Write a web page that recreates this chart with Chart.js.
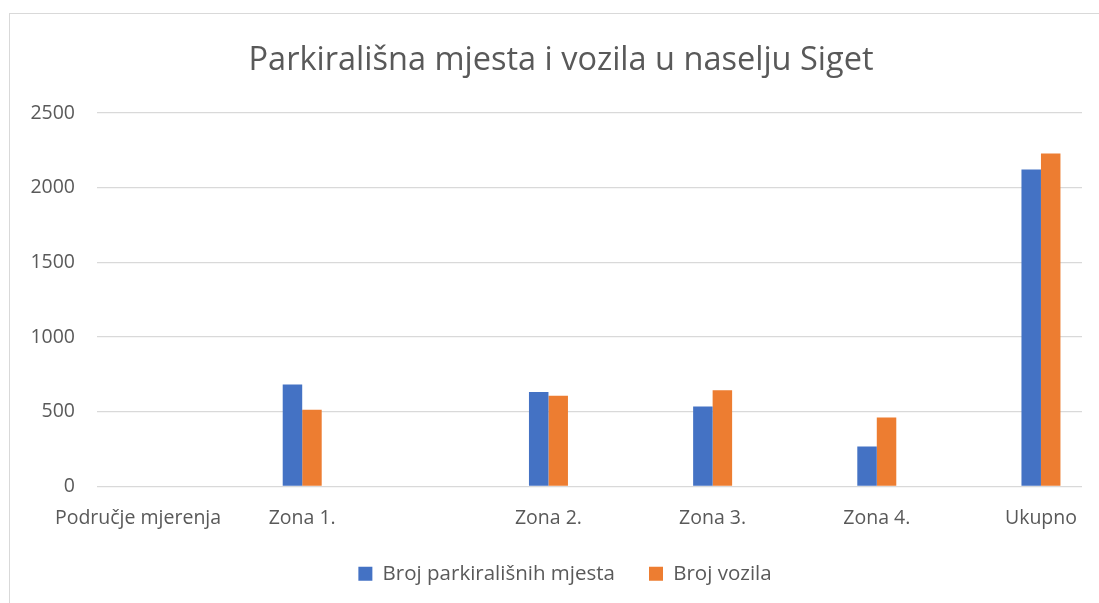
<!DOCTYPE html>
<html>
<head>
<meta charset="utf-8">
<script src="https://cdn.jsdelivr.net/npm/chart.js@4"></script>
<style>
    html, body { margin: 0; padding: 0; background: #ffffff; overflow: hidden; }
    #frame {
        position: absolute; left: 9px; top: 13px; right: -5px; bottom: -5px;
        border: 1px solid #d9d9d9;
    }
    #chart { position: absolute; left: 0; top: 0; }
</style>
</head>
<body>
<div id="frame"></div>
<canvas id="chart" width="1099" height="603"></canvas>
<script>
// Categories as they sit in the sheet (blank rows included)
const categories = ["Područje mjerenja", "", "Zona 1.", "", "", "Zona 2.", "", "Zona 3.", "", "Zona 4.", "", "Ukupno"];
const parkingSpots = [null, null, 682, null, null, 633, null, 535, null, 267, null, 2122];
const vehicles = [null, null, 513, null, null, 607, null, 645, null, 462, null, 2229];
const yTicks = [0, 500, 1000, 1500, 2000, 2500];

const textColor = "#595959";
const fontFamily = "'Open Sans', 'Noto Sans', sans-serif";

// Title and legend are centred on the whole frame, not on the plot
const centreShift = {
    id: "centreShift",
    afterLayout(chart) {
        chart.titleBlock.left += 20;
        chart.titleBlock.right += 20;
        chart.legend.left += 24;
        chart.legend.right += 24;
    },
};

new Chart(document.getElementById("chart"), {
    type: "bar",
    data: {
        labels: categories,
        datasets: [
            {
                label: "Broj parkirališnih mjesta",
                data: parkingSpots,
                backgroundColor: "#4472c4",
                categoryPercentage: 0.475,
                barPercentage: 1.0,
            },
            {
                label: "Broj vozila",
                data: vehicles,
                backgroundColor: "#ed7d31",
                categoryPercentage: 0.475,
                barPercentage: 1.0,
            },
        ],
    },
    options: {
        responsive: false,
        animation: false,
        layout: { padding: { left: 0, right: 17, top: 0, bottom: 9 } },
        plugins: {
            title: {
                display: true,
                text: "Parkirališna mjesta i vozila u naselju Siget",
                color: textColor,
                font: { family: fontFamily, size: 32.5, weight: "normal" },
                padding: { top: 41, bottom: 33 },
            },
            legend: {
                position: "bottom",
                labels: {
                    color: textColor,
                    font: { family: fontFamily, size: 20.5 },
                    boxWidth: 14,
                    boxHeight: 14,
                    padding: 34,
                },
            },
            tooltip: { enabled: false },
        },
        scales: {
            x: {
                grid: { display: false },
                border: { display: false },
                ticks: {
                    color: textColor,
                    font: { family: fontFamily, size: 19.5 },
                    autoSkip: false,
                    maxRotation: 0,
                    minRotation: 0,
                    padding: 12,
                },
                afterFit: (scale) => { scale.height = 43; },
            },
            y: {
                min: 0,
                max: 2500,
                afterBuildTicks: (scale) => { scale.ticks = yTicks.map((v) => ({ value: v })); },
                grid: { color: "#d9d9d9", lineWidth: 1.3, drawTicks: false },
                border: { display: false },
                ticks: {
                    color: textColor,
                    font: { family: fontFamily, size: 19.5 },
                    padding: 22,
                    callback: (value) => String(value),
                },
                afterFit: (scale) => { scale.width = 97; },
            },
        },
    },
    plugins: [centreShift],
});
</script>
</body>
</html>
